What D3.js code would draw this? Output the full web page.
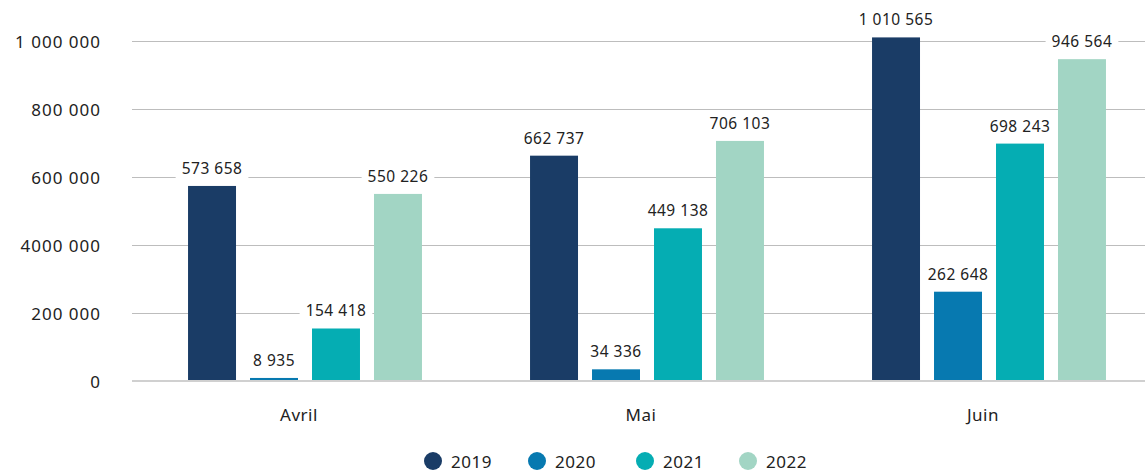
<!DOCTYPE html>
<html>
<head>
<meta charset="utf-8">
<script src="https://cdn.jsdelivr.net/npm/d3@7"></script>
<style>
  body { margin: 0; background: #fff; }
  svg { display: block; font-family: "Noto Sans", sans-serif; }
</style>
</head>
<body>
<div id="chart"></div>
<script>
// data
var months = ["Avril", "Mai", "Juin"];
var years = ["2019", "2020", "2021", "2022"];
var v2019 = [573658, 662737, 1010565];
var v2020 = [8935, 34336, 262648];
var v2021 = [154418, 449138, 698243];
var v2022 = [550226, 706103, 946564];
var tickValues = [0, 200000, 400000, 600000, 800000, 1000000];
var tickLabels = ["0", "200 000", "4000 000", "600 000", "800 000", "1 000 000"];
var colors = ["#1a3c66", "#0779b0", "#05adb3", "#a2d5c4"];

var series = [v2019, v2020, v2021, v2022];

var width = 1145, height = 471;
var svg = d3.select("#chart").append("svg")
	.attr("width", width)
	.attr("height", height);

var y = d3.scaleLinear()
	.domain([0, 1000000])
	.range([381, 41]);

var x0 = d3.scaleBand()
	.domain(months)
	.range([134, 1160])
	.paddingInner(0.316)
	.paddingOuter(0.158);

var x1 = d3.scaleBand()
	.domain(years)
	.range([0, x0.bandwidth()])
	.paddingInner(0.226);

var color = d3.scaleOrdinal().domain(years).range(colors);

// gridlines
svg.append("g")
	.selectAll("line")
	.data(tickValues.slice(1))
	.enter()
	.append("line")
	.attr("x1", 132).attr("x2", 1145)
	.attr("y1", function(d) { return Math.round(y(d)) + 0.5; })
	.attr("y2", function(d) { return Math.round(y(d)) + 0.5; })
	.attr("stroke", "#bdbdbd")
	.attr("stroke-width", 1);

// y labels
svg.append("g")
	.selectAll("text")
	.data(tickValues)
	.enter()
	.append("text")
	.attr("x", 101)
	.attr("y", function(d) { return y(d); })
	.attr("text-anchor", "end")
	.attr("dominant-baseline", "central")
	.attr("fill", "#222")
	.style("font-size", "17px")
	.style("letter-spacing", "1px")
	.text(function(d, i) { return tickLabels[i]; });

// bars
var rows = [];
months.forEach(function(m, mi) {
	years.forEach(function(yr, yi) {
		rows.push({ month: m, year: yr, value: series[yi][mi] });
	});
});

svg.append("g")
	.selectAll("rect")
	.data(rows)
	.enter()
	.append("rect")
	.attr("x", function(d) { return x0(d.month) + x1(d.year); })
	.attr("width", x1.bandwidth())
	.attr("y", function(d) { return y(d.value); })
	.attr("height", function(d) { return y(0) - y(d.value); })
	.attr("fill", function(d) { return color(d.year); });

// baseline
svg.append("line")
	.attr("x1", 132).attr("x2", 1145)
	.attr("y1", y(0)).attr("y2", y(0))
	.attr("stroke", "#d0d0d0")
	.attr("stroke-width", 2);

// value labels with white boxes
var fmt = function(v) { return d3.format(",")(v).replace(/,/g, " "); };
var labels = svg.append("g").selectAll("g")
	.data(rows)
	.enter()
	.append("g")
	.attr("transform", function(d) {
		return "translate(" + (x0(d.month) + x1(d.year) + x1.bandwidth() / 2) + "," + (y(d.value) - 18) + ")";
	});

labels.append("text")
	.attr("text-anchor", "middle")
	.attr("dominant-baseline", "central")
	.attr("fill", "#222")
	.style("font-size", "15.5px")
	.style("letter-spacing", "0.5px")
	.text(function(d) { return fmt(d.value); });

labels.each(function() {
	var g = d3.select(this);
	var bb = g.select("text").node().getBBox();
	g.insert("rect", "text")
		.attr("x", bb.x - 6).attr("y", bb.y - 1)
		.attr("width", bb.width + 12).attr("height", bb.height + 2)
		.attr("fill", "#fff");
});

// month labels
svg.append("g")
	.selectAll("text")
	.data(months)
	.enter()
	.append("text")
	.attr("x", function(d) { return x0(d) + x0.bandwidth() / 2 - 6; })
	.attr("y", 414)
	.attr("text-anchor", "middle")
	.attr("dominant-baseline", "central")
	.attr("fill", "#222")
	.style("font-size", "17px")
	.style("letter-spacing", "0.5px")
	.text(function(d) { return d; });

// legend
var legendX = [433, 537, 645, 748];
var leg = svg.append("g").selectAll("g")
	.data(years)
	.enter()
	.append("g")
	.attr("transform", function(d, i) { return "translate(" + legendX[i] + ",461)"; });

leg.append("circle")
	.attr("r", 9)
	.attr("fill", function(d) { return color(d); });

leg.append("text")
	.attr("x", 18)
	.attr("dominant-baseline", "central")
	.attr("fill", "#222")
	.style("font-size", "17px")
	.style("letter-spacing", "0.5px")
	.text(function(d) { return d; });
</script>
</body>
</html>
